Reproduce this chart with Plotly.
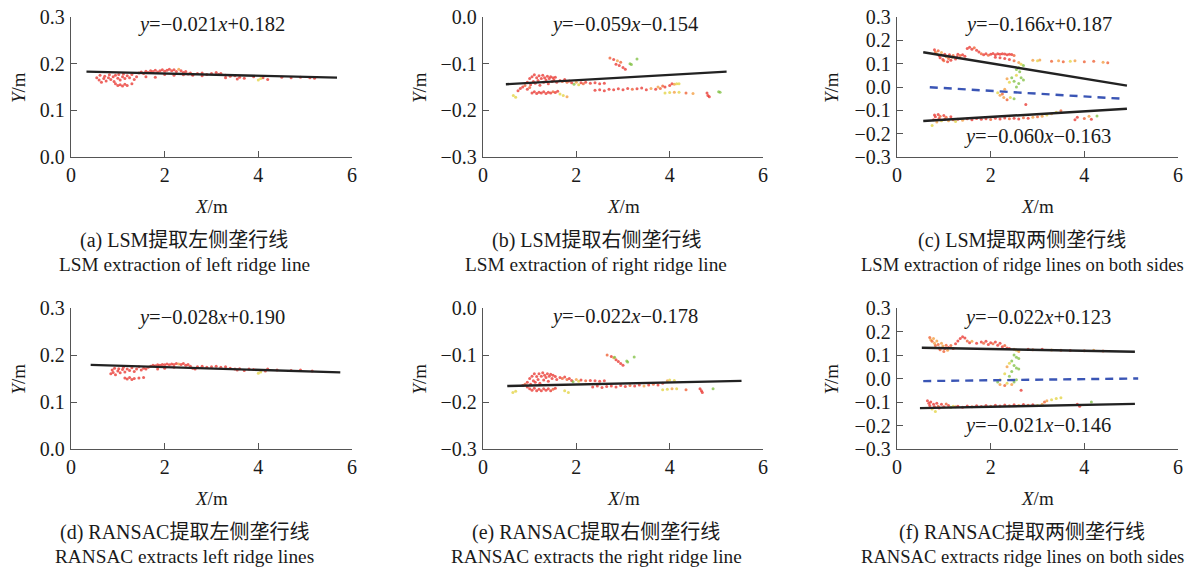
import plotly.graph_objects as go

W, H = 1191, 567

# colour classes of the point cloud: 0 red, 1 red-orange, 2 orange, 3 yellow, 4 green
PT_COLORS = ["#e8302a", "#ee5a2b", "#f39a3a", "#e2d23c", "#7dbf3f"]

# ---------------- data: (X, Y, colour class) ----------------
A_PTS = [(0.55,0.170,0),(0.6,0.165,0),(0.62,0.175,0),(0.65,0.160,0),(0.7,0.168,0),(0.72,0.173,0),(0.75,0.163,0),
         (0.8,0.170,0),(0.82,0.176,0),(0.85,0.166,0),(0.9,0.172,0),(0.92,0.162,0),(0.95,0.175,0),(1.0,0.169,0),
         (1.02,0.177,0),(1.05,0.165,0),(1.1,0.172,0),(1.12,0.178,0),(1.15,0.168,0),(1.2,0.174,0),(1.25,0.170,0),
         (1.3,0.177,0),(1.35,0.166,0),(1.4,0.172,0),
         (0.95,0.157,0),(1.0,0.153,0),(1.05,0.155,0),(1.1,0.152,0),(1.15,0.156,0),(1.2,0.153,0),(1.3,0.157,0),
         (1.45,0.180,0),(1.5,0.182,0),(1.55,0.179,0),(1.6,0.184,0),(1.65,0.181,0),(1.7,0.185,0),(1.75,0.183,0),
         (1.8,0.186,0),(1.85,0.182,0),(1.9,0.185,0),(1.95,0.187,0),(2.0,0.184,0),(2.05,0.186,0),(2.1,0.188,0),
         (2.15,0.185,0),(2.2,0.187,0),(2.25,0.183,0),(2.3,0.188,2),(2.35,0.185,0),(2.4,0.181,0),(2.45,0.183,0),
         (2.5,0.178,0),(2.55,0.180,0),(2.6,0.177,0),(2.7,0.179,0),(2.8,0.180,0),(2.9,0.177,0),(3.0,0.179,0),
         (3.1,0.181,0),(3.15,0.177,0),(3.2,0.179,0),(3.3,0.175,0),(3.4,0.173,0),(3.5,0.174,0),(3.6,0.171,0),
         (3.7,0.169,0),(3.9,0.172,0),(4.1,0.170,0),(4.2,0.166,0),(4.5,0.171,0),(4.7,0.170,0),(4.9,0.171,0),
         (5.1,0.170,0),(5.2,0.169,0),(1.6,0.172,0),(1.8,0.171,0),(2.0,0.177,0),(2.2,0.175,0),(2.4,0.176,0),
         (2.6,0.175,0),(2.8,0.174,0),(3.3,0.170,0),(3.55,0.167,0),(4.0,0.165,3),(4.05,0.168,3)]

B_PTS = [(0.95,-0.140,0),(1.0,-0.132,0),(1.02,-0.145,0),(1.05,-0.128,0),(1.08,-0.138,0),(1.1,-0.124,0),
         (1.12,-0.142,0),(1.15,-0.130,0),(1.18,-0.136,0),(1.2,-0.126,0),(1.22,-0.146,0),(1.25,-0.132,0),
         (1.28,-0.125,0),(1.3,-0.140,0),(1.32,-0.130,0),(1.35,-0.135,0),(1.38,-0.127,0),(1.4,-0.143,0),
         (1.42,-0.132,0),(1.45,-0.128,0),(1.48,-0.138,0),(1.5,-0.130,0),(1.52,-0.135,0),(1.55,-0.129,0),
         (1.58,-0.140,0),(1.65,-0.136,0),(1.7,-0.138,1),(1.75,-0.134,0),(1.8,-0.140,1),(1.85,-0.137,0),
         (1.9,-0.141,0),(1.95,-0.144,4),(2.0,-0.140,2),(2.05,-0.145,3),(2.1,-0.141,0),(2.15,-0.143,1),
         (2.2,-0.140,0),(2.3,-0.142,0),(2.4,-0.141,0),(2.5,-0.143,0),(2.6,-0.142,0),
         (0.75,-0.158,0),(0.8,-0.153,0),(0.85,-0.150,0),(0.9,-0.147,1),(0.95,-0.155,0),(1.0,-0.151,1),
         (1.05,-0.163,0),(1.1,-0.160,0),(1.15,-0.164,0),(1.2,-0.161,0),(1.25,-0.163,0),(1.3,-0.160,0),
         (1.35,-0.164,0),(1.4,-0.161,0),(1.45,-0.163,0),(1.5,-0.160,1),(1.55,-0.162,0),(1.6,-0.159,0),
         (0.65,-0.168,3),(0.7,-0.172,3),(1.65,-0.165,3),(1.72,-0.168,3),(1.8,-0.171,2),
         (2.4,-0.157,0),(2.5,-0.156,0),(2.6,-0.158,0),(2.7,-0.155,0),(2.8,-0.156,0),(2.9,-0.154,0),
         (3.0,-0.156,0),(3.1,-0.153,0),(3.2,-0.155,1),(3.3,-0.154,0),(3.4,-0.152,0),(3.5,-0.156,0),
         (3.6,-0.153,2),(3.7,-0.155,0),(3.8,-0.153,1),(3.9,-0.150,0),(4.0,-0.147,0),(4.05,-0.143,0),
         (4.1,-0.144,2),(4.15,-0.143,3),(4.2,-0.143,3),(3.75,-0.150,2),(3.85,-0.148,1),
         (3.9,-0.163,3),(4.0,-0.162,3),(4.1,-0.161,2),(4.2,-0.161,3),(4.35,-0.163,1),(4.5,-0.164,2),
         (4.8,-0.163,0),(4.82,-0.168,0),(4.85,-0.171,0),(5.05,-0.160,4),(5.08,-0.161,4),
         (2.72,-0.088,1),(2.8,-0.091,0),(2.88,-0.094,2),(2.95,-0.097,1),(2.85,-0.101,0),(2.92,-0.104,0),
         (3.0,-0.108,0),(3.05,-0.112,0),(3.15,-0.100,4),(3.18,-0.102,4),(3.3,-0.090,4)]

C_PTS = [(0.8,0.160,0),(0.82,0.150,1),(0.85,0.142,2),(0.88,0.155,1),(0.9,0.135,0),(0.92,0.125,0),
         (0.95,0.148,2),(0.98,0.118,0),(1.0,0.112,1),(1.02,0.140,0),(1.05,0.130,2),(1.08,0.108,0),
         (1.1,0.122,1),(1.12,0.138,0),(1.15,0.115,0),(1.18,0.128,2),(1.2,0.135,1),(1.25,0.120,0),
         (1.28,0.130,0),(1.3,0.140,0),(1.35,0.135,1),(1.4,0.138,0),(1.45,0.132,0),(1.5,0.165,0),
         (1.55,0.170,0),(1.6,0.162,0),(1.65,0.168,1),(1.7,0.158,0),(1.75,0.150,0),(1.8,0.142,1),
         (1.85,0.138,0),(1.9,0.142,0),(1.95,0.136,1),(2.0,0.140,0),(2.05,0.144,0),(2.1,0.138,0),
         (2.15,0.143,0),(2.2,0.140,0),(2.25,0.142,0),(2.3,0.141,0),(2.35,0.138,0),(2.4,0.140,0),
         (2.45,0.139,0),(2.5,0.135,1),(2.1,0.128,0),(2.2,0.125,0),(2.3,0.122,0),(2.4,0.118,0),
         (2.5,0.112,1),(2.6,0.105,2),(2.65,0.098,3),(2.7,0.092,4),
         (2.9,0.115,2),(3.0,0.112,3),(3.05,0.116,2),(3.3,0.110,1),(3.45,0.112,2),(3.55,0.108,1),
         (3.7,0.110,3),(3.8,0.112,2),(4.0,0.108,1),(4.2,0.110,1),(4.4,0.106,2),(4.5,0.104,1),
         (2.55,0.075,4),(2.6,0.082,4),(2.62,0.065,4),(2.55,0.050,3),(2.45,0.040,4),(2.5,0.025,4),
         (2.65,0.040,4),(2.7,0.030,4),(2.6,0.015,4),(2.55,0.000,4),(2.4,0.020,3),(2.35,0.035,2),
         (2.3,-0.010,2),(2.25,-0.030,1),(2.28,-0.045,2),(2.35,-0.055,1),(2.42,-0.045,3),(2.5,-0.050,4),
         (2.15,-0.025,3),(2.2,-0.035,2),(2.75,-0.075,0),
         (0.75,-0.165,3),(0.78,-0.140,0),(0.8,-0.120,0),(0.82,-0.128,0),(0.85,-0.150,2),(0.88,-0.118,0),
         (0.9,-0.135,0),(0.92,-0.125,1),(0.95,-0.145,3),(1.0,-0.122,0),(1.02,-0.138,0),(1.05,-0.130,1),
         (1.1,-0.145,2),(1.15,-0.128,0),(1.2,-0.140,1),(1.25,-0.148,3),
         (1.3,-0.138,0),(1.4,-0.142,2),(1.5,-0.136,0),(1.6,-0.140,0),(1.7,-0.135,0),(1.8,-0.138,0),
         (1.9,-0.136,0),(2.0,-0.139,1),(2.1,-0.134,0),(2.2,-0.137,0),(2.3,-0.133,0),(2.4,-0.136,1),
         (2.5,-0.134,0),(2.6,-0.137,0),(2.7,-0.132,1),(2.8,-0.134,0),(2.9,-0.130,2),(3.0,-0.128,1),
         (3.1,-0.125,2),(3.2,-0.120,3),(3.3,-0.115,2),(3.4,-0.108,3),(3.5,-0.102,1),
         (3.8,-0.140,0),(3.85,-0.130,0),(4.0,-0.135,1),(4.1,-0.125,2),(4.15,-0.138,0),(4.27,-0.124,4)]

D_PTS = [(0.85,0.160,0),(0.88,0.168,0),(0.9,0.163,0),(0.93,0.172,0),(0.95,0.158,0),(1.0,0.166,0),
         (1.02,0.171,0),(1.05,0.162,0),(1.1,0.169,0),(1.12,0.174,0),(1.15,0.164,0),(1.2,0.170,0),
         (1.25,0.167,0),(1.3,0.173,0),(1.35,0.165,0),(1.4,0.170,0),(1.45,0.175,0),(1.5,0.168,0),
         (1.55,0.172,0),(1.6,0.170,0),(1.65,0.174,0),
         (1.15,0.151,0),(1.2,0.149,0),(1.25,0.152,0),(1.3,0.148,0),(1.35,0.150,0),(1.45,0.151,0),(1.55,0.152,0),
         (1.7,0.176,0),(1.75,0.178,0),(1.8,0.177,0),(1.85,0.179,0),(1.9,0.178,0),(1.95,0.180,0),(2.0,0.179,0),
         (2.05,0.181,0),(2.1,0.179,0),(2.15,0.181,0),(2.2,0.180,0),(2.25,0.182,0),(2.3,0.181,2),(2.35,0.180,0),
         (2.4,0.182,0),(2.45,0.178,0),(2.5,0.180,0),(2.55,0.176,0),(2.6,0.172,0),(2.65,0.170,0),(2.7,0.175,0),
         (2.8,0.176,0),(2.9,0.174,0),(3.0,0.175,0),(3.1,0.176,0),(3.2,0.174,0),(3.3,0.175,0),(3.4,0.172,0),
         (3.5,0.170,0),(3.55,0.168,0),(3.6,0.171,0),(3.7,0.167,0),(3.8,0.170,0),(3.9,0.169,0),(4.15,0.166,0),
         (4.2,0.170,0),(4.4,0.168,0),(4.7,0.167,0),(4.9,0.168,0),(5.15,0.166,0),(4.0,0.161,3),(4.05,0.164,3),
         (2.0,0.172,0),(2.2,0.174,0),(1.85,0.170,0)]

E_PTS = [(0.95,-0.158,0),(1.0,-0.150,0),(1.02,-0.162,0),(1.05,-0.145,0),(1.08,-0.155,0),(1.1,-0.140,0),
         (1.12,-0.158,0),(1.15,-0.146,0),(1.18,-0.152,0),(1.2,-0.140,0),(1.22,-0.160,0),(1.25,-0.145,0),
         (1.28,-0.138,0),(1.3,-0.153,0),(1.32,-0.143,0),(1.35,-0.148,0),(1.38,-0.140,0),(1.4,-0.156,0),
         (1.42,-0.145,0),(1.45,-0.141,0),(1.48,-0.150,0),(1.5,-0.143,0),(1.55,-0.146,0),(1.58,-0.152,0),
         (1.65,-0.148,0),(1.7,-0.150,1),(1.75,-0.147,0),(1.8,-0.152,1),(1.85,-0.150,0),(1.9,-0.154,0),
         (1.93,-0.157,4),(2.0,-0.152,2),(2.05,-0.156,3),(2.1,-0.153,0),(2.2,-0.155,1),(2.3,-0.154,0),
         (2.4,-0.155,0),(2.5,-0.156,0),(2.6,-0.155,0),
         (0.85,-0.165,0),(0.9,-0.162,1),(0.95,-0.168,0),
         (1.0,-0.172,0),(1.05,-0.175,0),(1.1,-0.171,0),(1.15,-0.176,0),(1.2,-0.173,0),(1.25,-0.176,0),
         (1.3,-0.172,0),(1.35,-0.175,0),(1.4,-0.172,0),(1.45,-0.176,0),(1.5,-0.173,1),(1.55,-0.171,0),
         (0.64,-0.180,3),(0.7,-0.177,3),(1.75,-0.176,3),(1.83,-0.180,3),
         (2.35,-0.168,0),(2.45,-0.166,0),(2.55,-0.169,0),(2.65,-0.167,0),(2.75,-0.166,0),(2.85,-0.168,0),
         (2.95,-0.165,0),(3.05,-0.167,0),(3.15,-0.165,1),(3.25,-0.166,0),(3.35,-0.164,0),(3.45,-0.166,2),
         (3.55,-0.164,0),(3.65,-0.162,1),(3.75,-0.164,0),(3.85,-0.160,0),(3.95,-0.155,2),(4.0,-0.153,3),
         (4.1,-0.154,3),
         (3.85,-0.174,3),(3.95,-0.173,3),(4.05,-0.172,2),(4.15,-0.172,3),(4.35,-0.174,1),(4.65,-0.172,0),
         (4.68,-0.176,0),(4.7,-0.180,0),(4.93,-0.172,4),
         (2.66,-0.100,1),(2.75,-0.103,0),(2.8,-0.106,2),(2.85,-0.110,0),(2.9,-0.114,0),(2.95,-0.118,0),
         (3.0,-0.122,0),(2.82,-0.105,4),(3.08,-0.113,4),(3.1,-0.115,4),(3.24,-0.104,4)]

F_PTS = [(0.7,0.175,1),(0.72,0.165,2),(0.75,0.158,1),(0.78,0.170,2),(0.8,0.150,2),(0.82,0.140,1),
         (0.85,0.160,2),(0.88,0.145,1),(0.9,0.130,0),(0.92,0.122,1),(0.95,0.150,2),(0.98,0.138,2),
         (1.0,0.115,1),(1.02,0.128,0),(1.05,0.142,1),(1.08,0.120,2),(1.1,0.132,0),(1.15,0.140,1),
         (1.2,0.128,0),(1.25,0.148,0),(1.3,0.160,0),(1.35,0.170,0),(1.4,0.178,0),(1.45,0.172,0),
         (1.5,0.160,1),(1.55,0.152,0),(1.6,0.158,2),(1.7,0.150,0),(1.8,0.155,0),(1.85,0.150,1),
         (1.9,0.158,0),(1.95,0.145,0),(2.0,0.152,0),(2.05,0.148,1),(2.1,0.155,0),(2.15,0.142,0),
         (2.2,0.150,0),(2.25,0.135,0),(2.3,0.140,1),(2.35,0.130,0),(2.4,0.128,0),(2.5,0.125,2),
         (2.55,0.120,3),(2.6,0.115,2),
         (2.8,0.125,0),(2.9,0.122,1),(3.1,0.124,0),(3.3,0.121,2),(3.5,0.120,1),(3.7,0.119,0),
         (4.0,0.118,1),(4.2,0.120,2),(4.4,0.117,1),
         (2.5,0.100,4),(2.55,0.090,4),(2.6,0.085,4),(2.45,0.075,4),(2.4,0.065,3),(2.35,0.050,2),
         (2.5,0.055,4),(2.55,0.045,4),(2.6,0.040,4),(2.45,0.030,4),(2.3,0.020,3),(2.4,0.010,4),
         (2.2,-0.005,3),(2.15,-0.015,4),(2.2,-0.025,2),(2.3,-0.030,1),(2.35,-0.020,3),(2.45,-0.025,2),
         (2.5,-0.015,4),(2.55,-0.005,4),(2.65,-0.050,0),
         (0.65,-0.095,0),(0.68,-0.105,0),(0.7,-0.115,0),(0.72,-0.100,0),(0.75,-0.130,3),(0.78,-0.110,0),
         (0.8,-0.120,0),(0.82,-0.140,3),(0.85,-0.105,0),(0.88,-0.118,1),(0.9,-0.125,0),(0.95,-0.110,0),
         (1.0,-0.120,0),(1.05,-0.108,1),(1.1,-0.115,0),(1.15,-0.122,4),(1.2,-0.118,3),(1.25,-0.120,2),
         (1.3,-0.118,0),(1.4,-0.122,0),(1.5,-0.117,0),(1.6,-0.120,1),(1.7,-0.116,0),(1.8,-0.119,0),
         (1.9,-0.115,0),(2.0,-0.118,1),(2.1,-0.114,0),(2.2,-0.117,0),(2.3,-0.113,0),(2.4,-0.116,1),
         (2.5,-0.112,0),(2.6,-0.115,2),(2.7,-0.111,0),(2.8,-0.114,1),(2.9,-0.112,0),(3.0,-0.115,3),
         (3.1,-0.110,2),(3.15,-0.100,1),(3.2,-0.095,2),(3.3,-0.090,3),(3.4,-0.085,3),(3.5,-0.082,3),
         (3.85,-0.110,0),(3.9,-0.118,0),(4.15,-0.100,4)]

# fitted ridge lines (end points as drawn) and centre lines
A_FIT = ([0.33, 5.68], [0.183, 0.170])
B_FIT = ([0.49, 5.22], [-0.144, -0.117])
C_FIT_UP = ([0.56, 4.91], [0.149, 0.006])
C_MID = ([0.70, 4.87], [-0.001, -0.051])
C_FIT_LO = ([0.56, 4.91], [-0.146, -0.093])
D_FIT = ([0.42, 5.75], [0.179, 0.163])
E_FIT = ([0.52, 5.54], [-0.166, -0.155])
F_FIT_UP = ([0.53, 5.08], [0.131, 0.114])
F_MID = ([0.56, 5.15], [-0.011, 0.000])
F_FIT_LO = ([0.49, 5.08], [-0.126, -0.108])

EQ_A = ["<i>y</i>=−0.021<i>x</i>+0.182"]
EQ_B = ["<i>y</i>=−0.059<i>x</i>−0.154"]
EQ_C = ["<i>y</i>=−0.166<i>x</i>+0.187", "<i>y</i>=−0.060<i>x</i>−0.163"]
EQ_D = ["<i>y</i>=−0.028<i>x</i>+0.190"]
EQ_E = ["<i>y</i>=−0.022<i>x</i>−0.178"]
EQ_F = ["<i>y</i>=−0.022<i>x</i>+0.123", "<i>y</i>=−0.021<i>x</i>−0.146"]

CAP_CN = ["(a) LSM提取左侧垄行线", "(b) LSM提取右侧垄行线", "(c) LSM提取两侧垄行线",
          "(d) RANSAC提取左侧垄行线", "(e) RANSAC提取右侧垄行线", "(f) RANSAC提取两侧垄行线"]
CAP_EN = ["LSM extraction of left ridge line", "LSM extraction of right ridge line",
          "LSM extraction of ridge lines on both sides", "RANSAC extracts left ridge lines",
          "RANSAC extracts the right ridge line", "RANSAC extracts ridge lines on both sides"]

X_TICKS = [0, 2, 4, 6]
Y_TICKS_POS = [0.0, 0.1, 0.2, 0.3]
Y_TICKS_NEG = [-0.3, -0.2, -0.1, 0.0]
Y_TICKS_BOTH = [-0.3, -0.2, -0.1, 0.0, 0.1, 0.2, 0.3]

# ---------------- layout geometry (pixels) ----------------
FONT = "Liberation Serif, Times New Roman, Noto Sans CJK SC, serif"
AX_COLOR = "#555555"
TXT = "#1a1a1a"
COLS = [(71, 352), (483, 763), (897, 1178)]
ROWS = [(17, 157), (308, 449)]
CAP_CX = [184, 596, 1022]
CAP_EN_SIZE = [19.3, 19.3, 18.6]

panels = [
    dict(pts=A_PTS, fits=[A_FIT], mids=[], eqs=EQ_A, eqpos=[(211, 25)], yt=Y_TICKS_POS),
    dict(pts=B_PTS, fits=[B_FIT], mids=[], eqs=EQ_B, eqpos=[(624, 25)], yt=Y_TICKS_NEG),
    dict(pts=C_PTS, fits=[C_FIT_UP, C_FIT_LO], mids=[C_MID], eqs=EQ_C, eqpos=[(1038, 25), (1037, 137)], yt=Y_TICKS_BOTH),
    dict(pts=D_PTS, fits=[D_FIT], mids=[], eqs=EQ_D, eqpos=[(211, 317)], yt=Y_TICKS_POS),
    dict(pts=E_PTS, fits=[E_FIT], mids=[], eqs=EQ_E, eqpos=[(624, 316)], yt=Y_TICKS_NEG),
    dict(pts=F_PTS, fits=[F_FIT_UP, F_FIT_LO], mids=[F_MID], eqs=EQ_F, eqpos=[(1037, 317), (1037, 425)], yt=Y_TICKS_BOTH),
]

def px(x):
    return x / W

def py(y):
    return 1 - y / H

fig = go.Figure()
annotations = []
layout = {}

for i, p in enumerate(panels):
    r, c = divmod(i, 3)
    n = i + 1
    xa = "x" if n == 1 else f"x{n}"
    ya = "y" if n == 1 else f"y{n}"
    x0, x1 = COLS[c]
    y0, y1 = ROWS[r]
    xs = [q[0] for q in p["pts"]]
    ys = [q[1] for q in p["pts"]]
    cs = [PT_COLORS[q[2]] for q in p["pts"]]
    fig.add_trace(go.Scatter(x=xs, y=ys, mode="markers", xaxis=xa, yaxis=ya,
                             marker=dict(size=3.0, color=cs, opacity=0.75, line=dict(width=0)),
                             showlegend=False, hoverinfo="skip"))
    for fx, fy in p["fits"]:
        fig.add_trace(go.Scatter(x=fx, y=fy, mode="lines", xaxis=xa, yaxis=ya,
                                 line=dict(color="#222222", width=2.4), showlegend=False))
    for mx, my in p["mids"]:
        fig.add_trace(go.Scatter(x=mx, y=my, mode="lines", xaxis=xa, yaxis=ya,
                                 line=dict(color="#3a55b5", width=2.4, dash="8px,6px"), showlegend=False))
    yt = p["yt"]
    common = dict(showgrid=False, zeroline=False, showline=True, linecolor=AX_COLOR, linewidth=1.3,
                  ticks="inside", ticklen=6, tickcolor=AX_COLOR, tickwidth=1.3, automargin=False,
                  ticklabeloverflow="allow",
                  tickfont=dict(family=FONT, size=20, color=TXT))
    layout["xaxis" if n == 1 else f"xaxis{n}"] = dict(
        common, domain=[px(x0), px(x1)], range=[0, 6], tickvals=X_TICKS, anchor=ya,
        ticklabelstandoff=0)
    layout["yaxis" if n == 1 else f"yaxis{n}"] = dict(
        common, domain=[py(y1), py(y0)], range=[yt[0], yt[-1]], tickvals=yt, tickformat=".1f",
        anchor=xa, ticklabelstandoff=1)
    # equations
    for txt, (ex, ey) in zip(p["eqs"], p["eqpos"]):
        annotations.append(dict(text=txt, x=px(ex), y=py(ey), xref="paper", yref="paper",
                                xanchor="center", yanchor="middle", showarrow=False,
                                font=dict(family=FONT, size=20.5, color=TXT)))
    # axis titles
    annotations.append(dict(text="<i>X</i>/m", x=px((x0 + x1) / 2), y=py(y1 + 49), xref="paper", yref="paper",
                            xanchor="center", yanchor="middle", showarrow=False,
                            font=dict(family=FONT, size=19, color=TXT)))
    ytx = [18, 419, 831][c]
    annotations.append(dict(text="<i>Y</i>/m", x=px(ytx), y=py((y0 + y1) / 2 + 1), xref="paper", yref="paper",
                            xanchor="center", yanchor="middle", showarrow=False, textangle=-90,
                            font=dict(family=FONT, size=19, color=TXT)))
    # captions
    annotations.append(dict(text=CAP_CN[i], x=px(CAP_CX[c]), y=py(y1 + 83), xref="paper", yref="paper",
                            xanchor="center", yanchor="middle", showarrow=False,
                            font=dict(family=FONT, size=20, color=TXT)))
    annotations.append(dict(text=CAP_EN[i], x=px(CAP_CX[c]), y=py(y1 + 107), xref="paper", yref="paper",
                            xanchor="center", yanchor="middle", showarrow=False,
                            font=dict(family=FONT, size=CAP_EN_SIZE[c], color=TXT)))

fig.update_layout(width=W, height=H, margin=dict(l=0, r=0, t=0, b=0, autoexpand=False),
                  paper_bgcolor="white", plot_bgcolor="white",
                  annotations=annotations, showlegend=False, **layout)

# remove the page's default 8px body margin so the figure sits at the window's top-left corner
fig.write_html("out.html", config={"displayModeBar": False},
               post_script="document.body.style.margin='0';document.body.style.overflow='hidden';")
